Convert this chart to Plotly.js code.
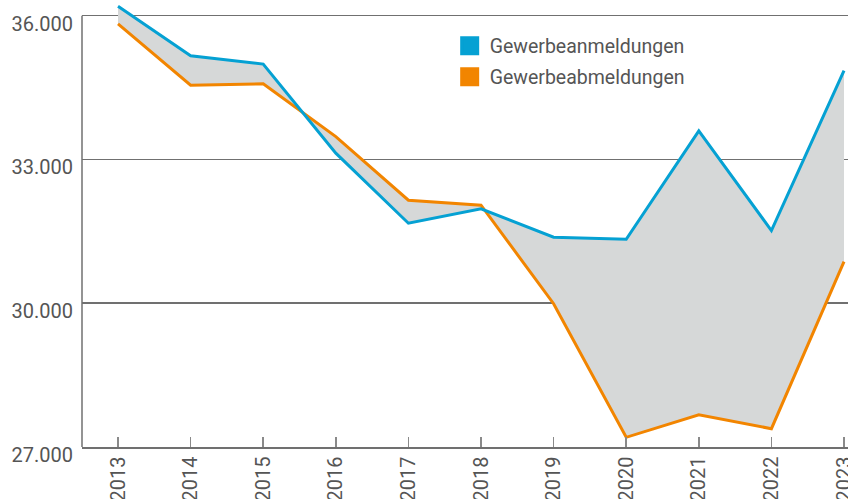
<!DOCTYPE html>
<html>
<head>
<meta charset="utf-8">
<script src="https://cdn.plot.ly/plotly-3.0.1.min.js"></script>
<style>html,body{margin:0;padding:0;background:#fff;overflow:hidden}</style>
</head>
<body>
<div id="chart" style="width:848px;height:499px"></div>
<script>
const years = [2013, 2014, 2015, 2016, 2017, 2018, 2019, 2020, 2021, 2022, 2023];
const yearLabels = years.map(String);
const anmeldungen = [36196, 35163, 34990, 33132, 31670, 31969, 31378, 31336, 33597, 31516, 34856];
const abmeldungen = [35831, 34551, 34578, 33478, 32150, 32046, 29990, 27202, 27674, 27382, 30868];
const yTicks = [27000, 30000, 33000, 36000];
const yTickText = ["27.000", "30.000", "33.000", "36.000"];
const nameAn = "Gewerbeanmeldungen";
const nameAb = "Gewerbeabmeldungen";

const BLUE = "#05a1d3";
const ORANGE = "#f28500";
const FILL = "#d6d8d8";
const GRID = "#707070";
const TXT = "#555555";
const FONT = "Roboto, 'Liberation Sans', sans-serif";

const traces = [
  {x: years, y: anmeldungen, mode: "lines", line: {width: 0, color: FILL}, showlegend: false, hoverinfo: "skip"},
  {x: years, y: abmeldungen, mode: "lines", fill: "tonexty", fillcolor: FILL, line: {width: 0, color: FILL}, showlegend: false, hoverinfo: "skip"},
  {x: years, y: abmeldungen, mode: "lines", line: {width: 3, color: ORANGE}, showlegend: false, name: nameAb},
  {x: years, y: anmeldungen, mode: "lines", line: {width: 3, color: BLUE}, showlegend: false, name: nameAn},
  {x: [null], y: [null], mode: "markers", name: nameAn, legend: "legend",
   marker: {symbol: "square", size: 16, color: BLUE, line: {width: 3, color: BLUE}}},
  {x: [null], y: [null], mode: "markers", name: nameAb, legend: "legend2",
   marker: {symbol: "square", size: 16, color: ORANGE, line: {width: 3, color: ORANGE}}}
];

const legendCommon = {
  xanchor: "left", yanchor: "middle", bgcolor: "rgba(0,0,0,0)",
  font: {family: FONT, size: 19.5, color: TXT}, itemwidth: 30
};

const layout = {
  width: 848, height: 499,
  margin: {l: 82, r: 0, t: 0, b: 52, pad: 0},
  paper_bgcolor: "#fff", plot_bgcolor: "#fff",
  font: {family: FONT, color: TXT},
  xaxis: {
    range: [2012.504, 2023.055],
    tickvals: years, ticktext: yearLabels,
    tickangle: -90,
    ticks: "inside", ticklen: 10, tickwidth: 1.5, tickcolor: "#8a8a8a",
    showgrid: false, zeroline: false,
    showline: true, linecolor: GRID, linewidth: 1.5,
    tickfont: {family: FONT, size: 20, color: TXT},
    ticklabelstandoff: 0, ticklabeloverflow: "allow", fixedrange: true
  },
  yaxis: {
    range: [27000, 36328],
    tickvals: yTicks, ticktext: yTickText,
    showgrid: true, gridcolor: GRID, gridwidth: 1.5,
    zeroline: false, showline: false, ticks: "",
    tickfont: {family: FONT, size: 20, color: TXT},
    ticklabelstandoff: 8, ticklabelshift: 8, fixedrange: true
  },
  shapes: [
    {type: "line", xref: "paper", yref: "y", x0: 0, x1: 0, y0: 27000, y1: 36000,
     line: {color: GRID, width: 1.5}}
  ],
  legend: Object.assign({x: 0.48, y: 1 - 46/447}, legendCommon),
  legend2: Object.assign({x: 0.48, y: 1 - 77/447}, legendCommon),
  showlegend: true
};

Plotly.newPlot("chart", traces, layout, {displayModeBar: false, staticPlot: true});
</script>
</body>
</html>
